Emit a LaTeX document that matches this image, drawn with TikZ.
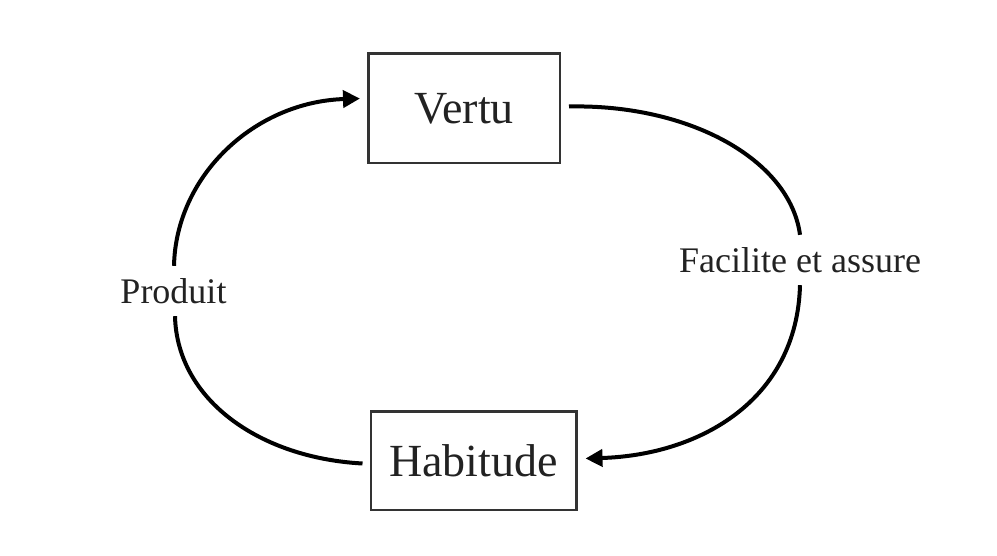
\documentclass[tikz,border=0pt]{standalone}
\usepackage{fontspec}
\setmainfont{Liberation Serif}
\usetikzlibrary{arrows.meta}
\definecolor{boxline}{HTML}{333333}
\definecolor{txt}{HTML}{222222}
\begin{document}
\begin{tikzpicture}[x=1pt,y=-1pt,
  box/.style={draw=boxline,line width=2.5pt,fill=white,inner sep=0pt,text=txt,
    font=\fontsize{46}{50}\selectfont},
  lab/.style={inner sep=0pt,minimum height=50pt,text=txt,font=\fontsize{36}{40}\selectfont},
  conn/.style={line width=4pt,draw=black},
  arr/.style={conn,-{Triangle[length=17pt,width=17pt]}}]
\useasboundingbox (0,0) rectangle (997,556);
\node[box,minimum width=191.5pt,minimum height=109.5pt] (V) at (464,108.5) {Vertu};
\node[box,minimum width=205.5pt,minimum height=98.5pt] (H) at (473.5,460.5) {Habitude};
\node[lab] (P) at (173.5,291) {Produit};
\node[lab] (F) at (800,260) {Facilite et assure};
\coordinate (hs) at ([xshift=-7pt,yshift=-3pt]H.west);
\coordinate (ve) at ([xshift=-7pt,yshift=10pt]V.west);
\coordinate (vs) at ([xshift=8pt,yshift=2pt]V.east);
\coordinate (he) at ([xshift=8pt,yshift=2pt]H.east);
\draw[conn] (hs) .. controls (260,458) and (177,400) .. (P.south -| 175,0);
\draw[arr] (P.north -| 174,0) .. controls (176,175) and (255,102) .. (ve);
\draw[conn] (vs) .. controls (690,104) and (790,160) .. (F.north);
\draw[arr] (F.south) .. controls (797,400) and (700,455) .. (he);
\end{tikzpicture}
\end{document}
